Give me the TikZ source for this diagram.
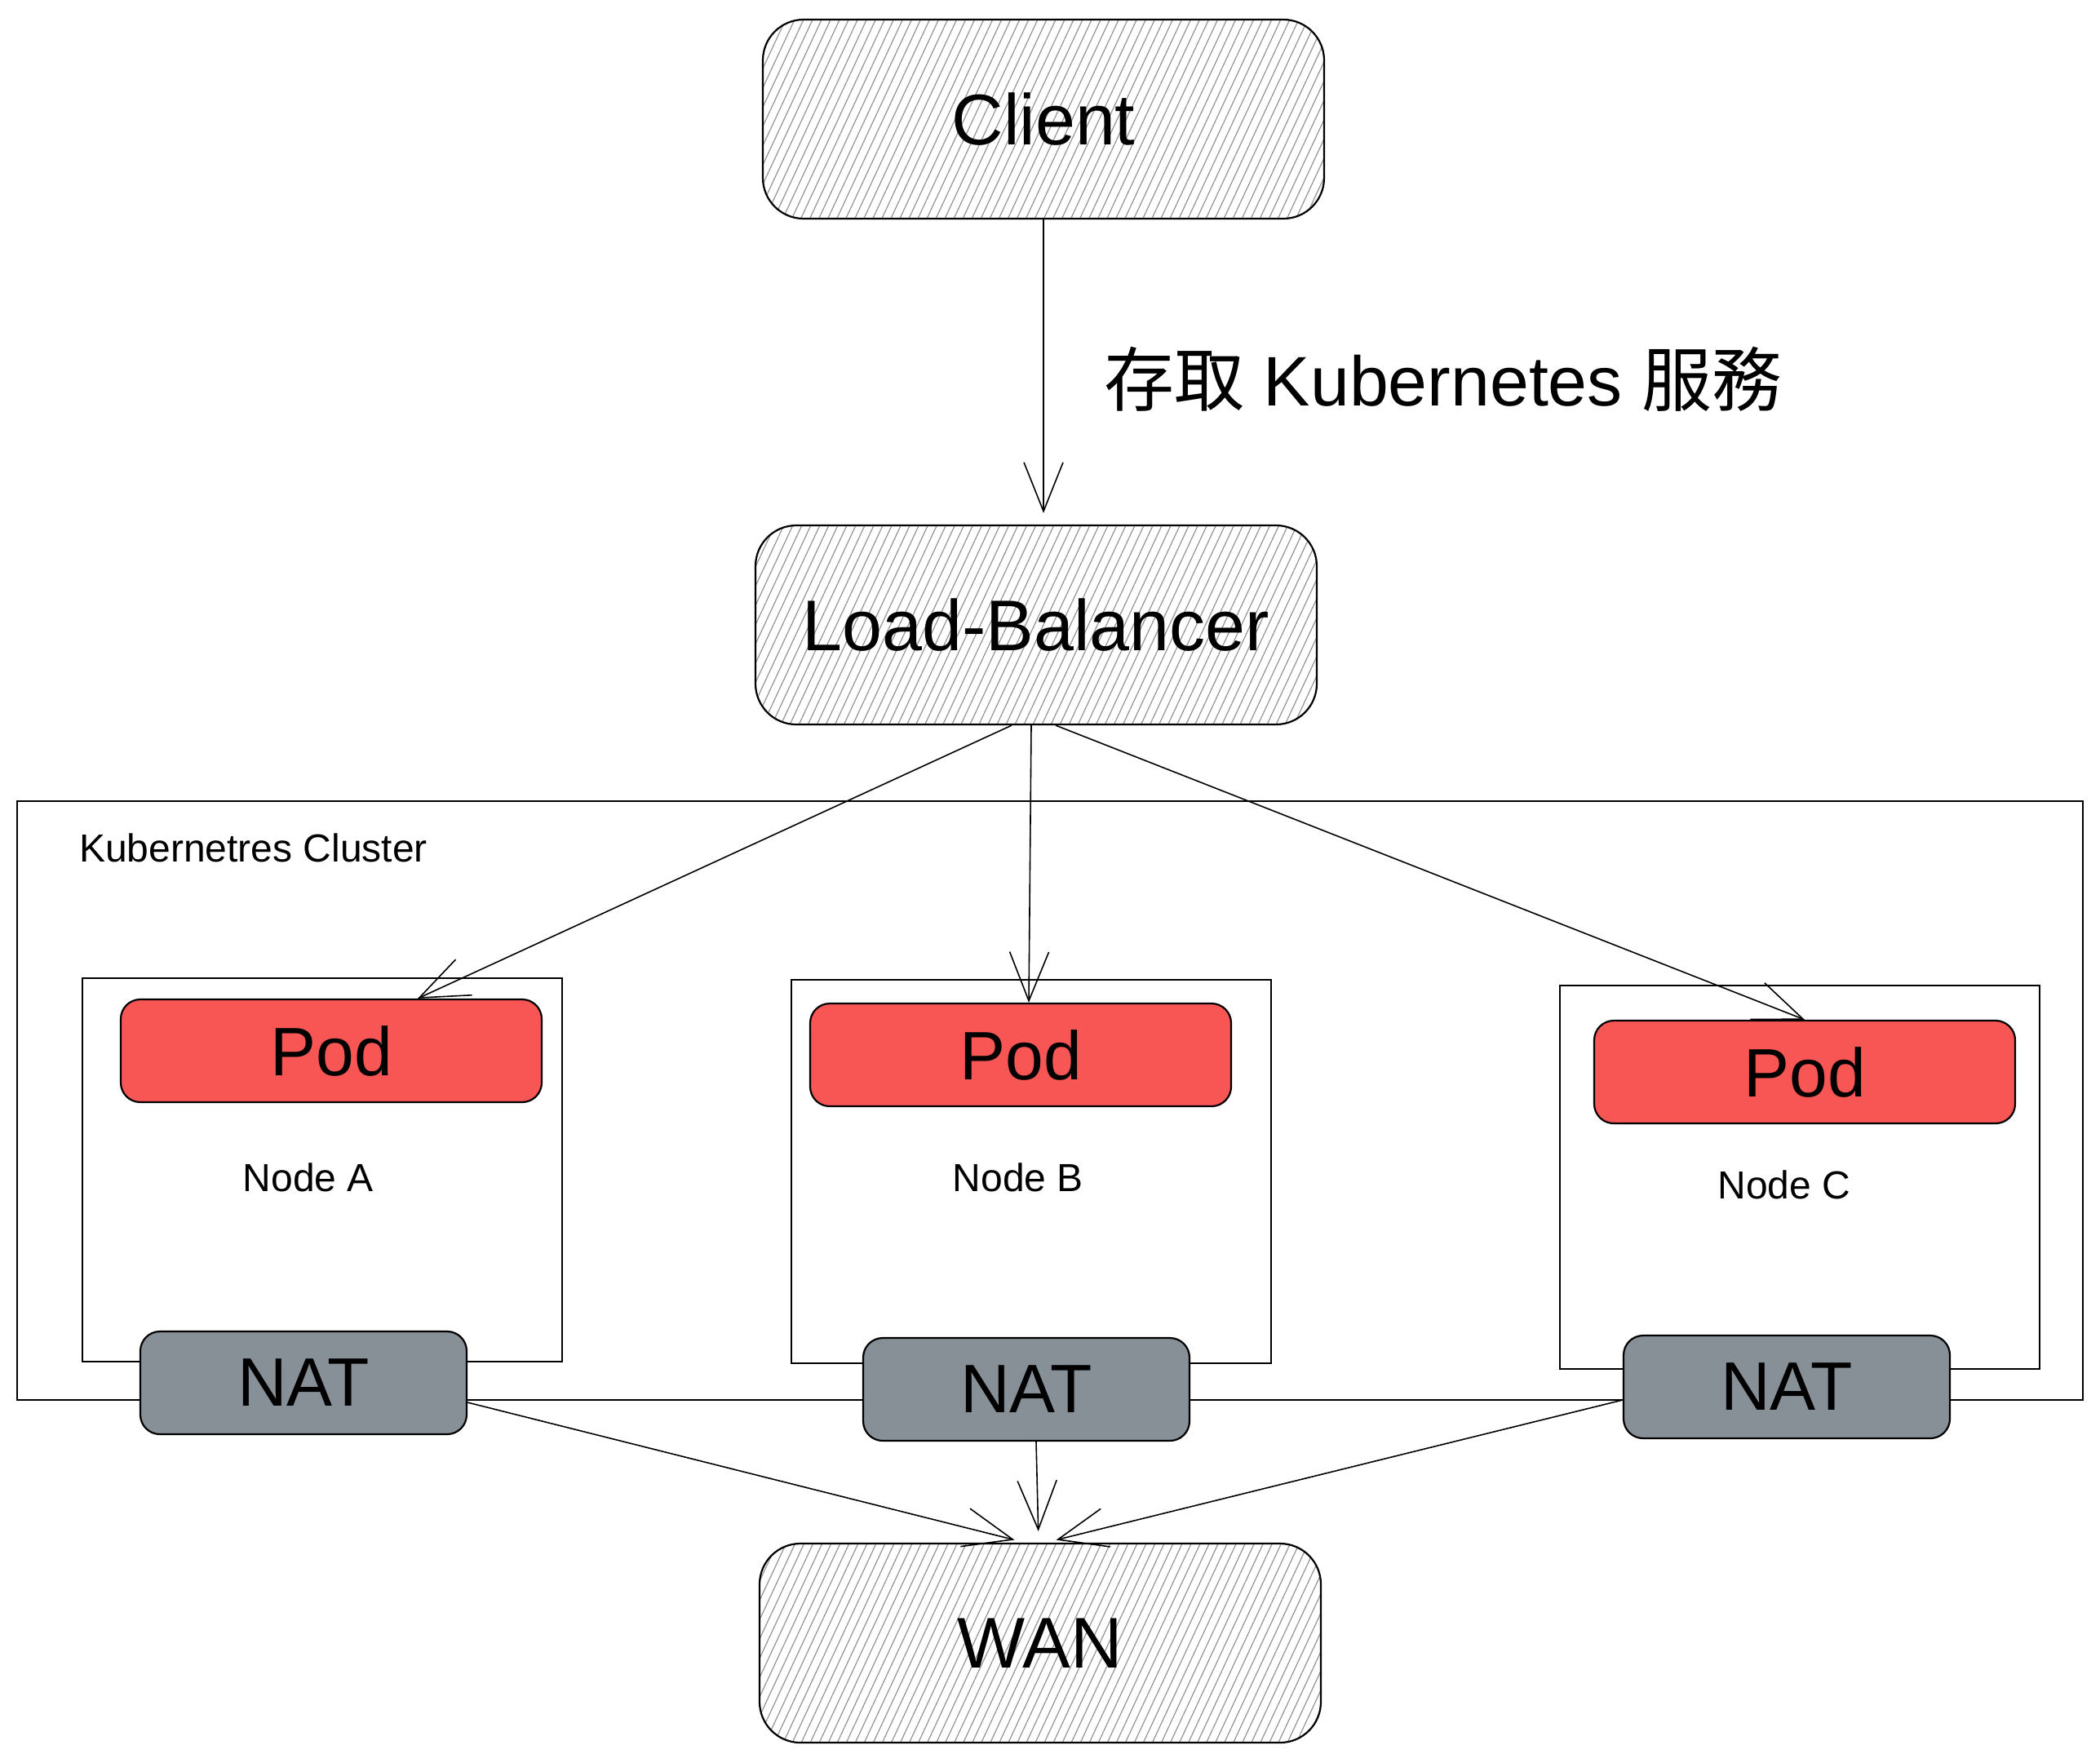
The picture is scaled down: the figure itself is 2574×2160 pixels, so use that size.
\documentclass[tikz,border=0pt]{standalone}
\usepackage{fontspec}
\setmainfont{Liberation Sans}
\newfontfamily\cjkfont{Noto Sans CJK TC}
\usepackage{xcolor}
\usepackage{tikz}
\usetikzlibrary{arrows.meta, positioning, patterns.meta}
\definecolor{podred}{HTML}{F85555}
\definecolor{natgray}{HTML}{878F97}

\begin{document}
\begin{tikzpicture}[
	x=0.5pt, y=-0.5pt,
	hatchbox/.style={
		draw,
		line width=1.1pt,
		rounded corners=25pt,
		pattern={Lines[angle=65,distance=5pt,line width=0.6pt]},
		pattern color=gray!85,
		minimum width=344pt,
		minimum height=122pt,
		font=\fontsize{44}{50}\selectfont
	},
	podbox/.style={
		draw,
		line width=1.1pt,
		rounded corners=12pt,
		fill=podred,
		minimum width=258pt,
		minimum height=63pt,
		font=\fontsize{42}{48}\selectfont
	},
	natbox/.style={
		draw,
		line width=1.1pt,
		rounded corners=12pt,
		fill=natgray,
		minimum width=200pt,
		minimum height=63pt,
		font=\fontsize{42}{48}\selectfont
	},
	hostbox/.style={
		draw,
		line width=1pt,
		minimum width=294pt,
		minimum height=235pt
	},
	hostlabel/.style={
		font=\fontsize{24}{28}\selectfont
	},
	link/.style={
		line width=0.8pt,
		shorten >=7pt,
		-{Straight Barb[length=30pt,width=24pt,line width=0.8pt]}
	}
]
	\useasboundingbox (0,0) rectangle (2574,2160);
	% Cluster
	\node[
		draw,
		line width=1.1pt,
		minimum width=1266pt,
		minimum height=367pt
	] (cluster) at (1287,1349) {};
	\node[
		anchor=west,
		font=\fontsize{24}{28}\selectfont
	] (clusterlabel) at (90,1039) {Kubernetres Cluster};
	% Nodes
	\node[hostbox] (hostA) at (395,1434) {};
	\node[hostbox] (hostB) at (1264,1436) {};
	\node[hostbox] (hostC) at (2206,1443) {};
	\node[hostlabel] (labelA) at (378,1443) {Node A};
	\node[hostlabel] (labelB) at (1248,1443) {Node B};
	\node[hostlabel] (labelC) at (2187,1452) {Node C};
	% Pods
	\node[podbox] (podA) at (406,1288) {Pod};
	\node[podbox] (podB) at (1251,1293) {Pod};
	\node[podbox] (podC) at (2212,1314) {Pod};
	% NAT
	\node[natbox] (natA) at (372,1695) {NAT};
	\node[natbox] (natB) at (1258,1703) {NAT};
	\node[natbox] (natC) at (2190,1700) {NAT};
	% Client, Load-Balancer, WAN
	\node[hatchbox] (client) at (1279,146) {Client};
	\node[hatchbox] (lb)     at (1270,766) {Load-Balancer};
	\node[hatchbox] (wan)    at (1275,2014) {WAN};
	% Beschriftung
	\node[
		anchor=west,
		font=\fontsize{43}{50}\selectfont
	] (access) at (1346,465) {{\cjkfont 存取} Kubernetes {\cjkfont 服務}};
	% Pfeile
	\draw[link] (client.south) -- (client.south |- lb.north);
	\draw[link, shorten >=0pt] ([xshift=-15pt]lb.south) -- ([xshift=53pt]podA.north);
	\draw[link, shorten >=0pt] ([xshift=-3pt]lb.south) -- ([xshift=5pt]podB.north);
	\draw[link, shorten >=0pt] ([xshift=12pt]lb.south) -- (podC.north);
	\draw[link] ([yshift=-12pt]natA.east) -- ([xshift=-9pt]wan.north);
	\draw[link] ([xshift=6pt]natB.south) -- ([xshift=-1pt]wan.north);
	\draw[link] ([yshift=-8pt]natC.west) -- ([xshift=3pt]wan.north);
\end{tikzpicture}
\end{document}
